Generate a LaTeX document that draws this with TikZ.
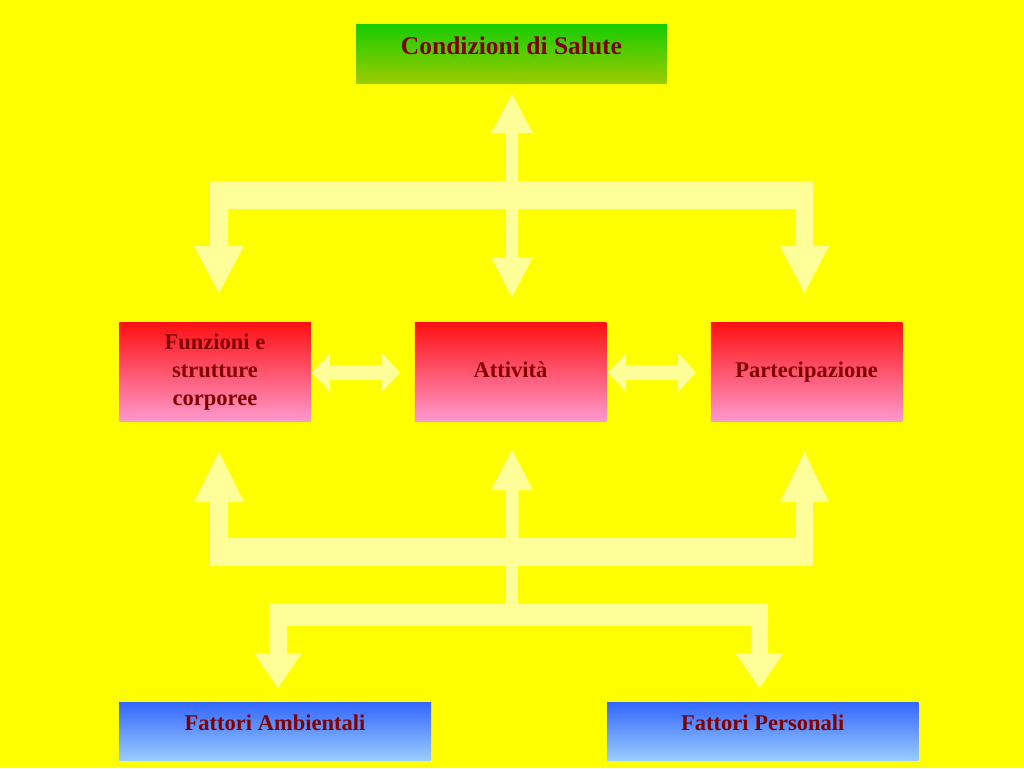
\documentclass[tikz,border=0pt]{standalone}
\usepackage{fontspec}
\setmainfont{Liberation Serif}
\definecolor{bgyel}{RGB}{255,255,0}
\definecolor{arrcol}{RGB}{255,255,153}
\definecolor{txtcol}{RGB}{128,0,0}
\definecolor{gtop}{RGB}{24,204,0}
\definecolor{gbot}{RGB}{156,204,0}
\definecolor{rtop}{RGB}{255,16,16}
\definecolor{rbot}{RGB}{255,153,204}
\definecolor{btop}{RGB}{51,102,255}
\definecolor{bbot}{RGB}{153,204,255}
% vertical block arrow: centre x, tip y, head base y, head half width, shaft half width, shaft end y
\newcommand\vblkarrow[6]{%
  \fill[arrcol] ({#1-#5},#6) -- ({#1-#5},#3) -- ({#1-#4},#3) -- (#1,#2) -- ({#1+#4},#3) -- ({#1+#5},#3) -- ({#1+#5},#6) -- cycle;}
% horizontal double block arrow: left x, right x, centre y
\newcommand\hdblarrow[3]{%
  \fill[arrcol] (#1,#3) -- ({#1+18},{#3-19.5}) -- ({#1+18},{#3-7.5}) -- ({#2-18},{#3-7.5}) -- ({#2-18},{#3-19.5}) -- (#2,#3) -- ({#2-18},{#3+19.5}) -- ({#2-18},{#3+7.5}) -- ({#1+18},{#3+7.5}) -- ({#1+18},{#3+19.5}) -- cycle;}
\begin{document}
\begin{tikzpicture}[x=1pt,y=-1pt,
  box/.style={draw=none, inner sep=0pt, outer sep=0pt},
  greenbox/.style={box, top color=gtop, bottom color=gbot},
  redbox/.style={box, top color=rtop, bottom color=rbot, minimum width=191.5pt, minimum height=99pt},
  bluebox/.style={box, top color=btop, bottom color=bbot, minimum height=58pt},
  lbl/.style={text=txtcol, font=\bfseries\fontsize{22.5}{28}\selectfont, inner sep=0pt, anchor=base, align=center},
  biglbl/.style={lbl, font=\bfseries\fontsize{25.5}{30}\selectfont}]
\fill[bgyel] (0,0) rectangle (1024,768);
\useasboundingbox (0,0) rectangle (1024,768);

% boxes
\node[greenbox, minimum width=311pt, minimum height=58pt] (cs) at (511.5,54) {};
\node[redbox] (fsc) at (215,371.5) {};
\node[redbox] (att) at (510.5,371.5) {};
\node[redbox] (par) at (806.5,371.5) {};
\node[bluebox, minimum width=312pt] (fa) at (275,731) {};
\node[bluebox, minimum width=311.5pt] (fp) at (762.75,731) {};

% labels
\node[biglbl] (cst) at (511.5,55) {Condizioni di Salute};
\node[lbl] (fsct) at (215,405) {Funzioni e\\strutture\\corporee};
\node[lbl] (attt) at (510.5,377) {Attività};
\node[lbl] (part) at (806.5,377) {Partecipazione};
\node[lbl] (fat) at (275,730) {Fattori Ambientali};
\node[lbl] (fpt) at (762.75,730) {Fattori Personali};

% upper arrow system
\vblkarrow{512}{94}{133}{21}{6}{195}
\fill[arrcol] (210,181) rectangle (813,209);
\vblkarrow{219}{293}{246}{25}{9}{195}
\vblkarrow{804.5}{293}{246}{24.5}{8.5}{195}
\vblkarrow{512}{297}{257}{21}{6}{195}

% horizontal double arrows
\hdblarrow{312}{400}{372.5}
\hdblarrow{608}{696}{372.5}

% lower arrow system
\vblkarrow{219}{452}{502}{25}{9}{552}
\vblkarrow{512}{450}{490}{21}{6.5}{552}
\vblkarrow{804.5}{452}{502}{24.5}{8.5}{552}
\fill[arrcol] (210,538) rectangle (813,566);
\fill[arrcol] (505.5,560) rectangle (518,610);
\fill[arrcol] (269,604) rectangle (768,626);
\vblkarrow{278}{688}{653}{24}{9}{615}
\vblkarrow{759.5}{688}{653}{24}{8.5}{615}
\end{tikzpicture}
\end{document}
